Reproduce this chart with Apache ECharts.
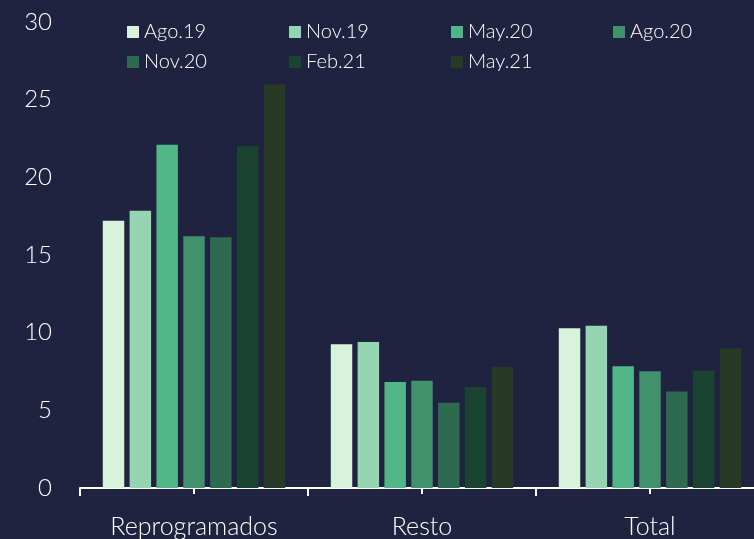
<!DOCTYPE html>
<html style="height: 100%">
<head>
    <meta charset="utf-8">
    <title>Reprogramados</title>
</head>
<body style="height: 100%; margin: 0; background: #1f2340; overflow: hidden">
<div id="container" style="height:539px;width:764px"></div>
<script src="https://cdn.jsdelivr.net/npm/echarts@6/dist/echarts.min.js"></script>
<script type="text/javascript">
    // datos
    var categorias = ['Reprogramados', 'Resto', 'Total'];
    var periodos = ['Ago.19', 'Nov.19', 'May.20', 'Ago.20', 'Nov.20', 'Feb.21', 'May.21'];
    var ago19 = [17.2, 9.26, 10.28];
    var nov19 = [17.85, 9.4, 10.45];
    var may20 = [22.1, 6.83, 7.83];
    var ago20 = [16.2, 6.91, 7.51];
    var nov20 = [16.15, 5.49, 6.21];
    var feb21 = [22.0, 6.51, 7.55];
    var may21 = [26.0, 7.79, 9.0];
    var colores = ['#d8f3dc', '#95d5b2', '#52b788', '#40916c', '#2d6a4f', '#1b4332', '#263a25'];

    var valores = [ago19, nov19, may20, ago20, nov20, feb21, may21];
    var fuente = 'Lato, "Open Sans", sans-serif';

    var dom = document.getElementById("container");
    var myChart = echarts.init(dom);

    var series = [];
    for (var i = 0; i < periodos.length; i++) {
        series.push({
            name: periodos[i],
            type: 'bar',
            xAxisIndex: 0,
            data: valores[i],
            barGap: '25%',
            barCategoryGap: '20%',
            itemStyle: {color: colores[i]}
        });
    }
    // serie vacia para que se dibuje el segundo eje (marcas centrales)
    series.push({type: 'bar', xAxisIndex: 1, data: [], silent: true});

    myChart.setOption({
        backgroundColor: '#1f2340',
        color: colores,
        animation: false,
        legend: {
            data: periodos,
            left: 122,
            top: 17,
            width: 650,
            itemWidth: 12,
            itemHeight: 12,
            itemGap: 10,
            icon: 'rect',
            textStyle: {
                color: '#ffffff',
                fontSize: 20,
                fontFamily: fuente,
                fontWeight: 300,
                width: 135,
                lineHeight: 20
            }
        },
        grid: {left: 80, right: 0, top: 22, bottom: 47},
        xAxis: [
            {
                type: 'category',
                data: categorias,
                axisLine: {show: true, lineStyle: {color: '#ffffff', width: 2}},
                axisTick: {show: true, length: 8, lineStyle: {color: '#ffffff', width: 2}},
                axisLabel: {color: '#ffffff', fontSize: 25, fontFamily: fuente, fontWeight: 300, margin: 26}
            },
            {
                type: 'category',
                data: categorias,
                position: 'bottom',
                offset: 0,
                show: true,
                axisLine: {show: false},
                axisTick: {show: true, alignWithLabel: true, length: 6, lineStyle: {color: '#ffffff', width: 2}},
                axisLabel: {show: false}
            }
        ],
        yAxis: {
            type: 'value',
            min: 0,
            max: 30,
            interval: 5,
            axisLine: {show: false},
            axisTick: {show: false},
            splitLine: {show: false},
            axisLabel: {color: '#ffffff', fontSize: 24, fontFamily: fuente, fontWeight: 300, margin: 28}
        },
        series: series
    });
</script>
</body>
</html>
